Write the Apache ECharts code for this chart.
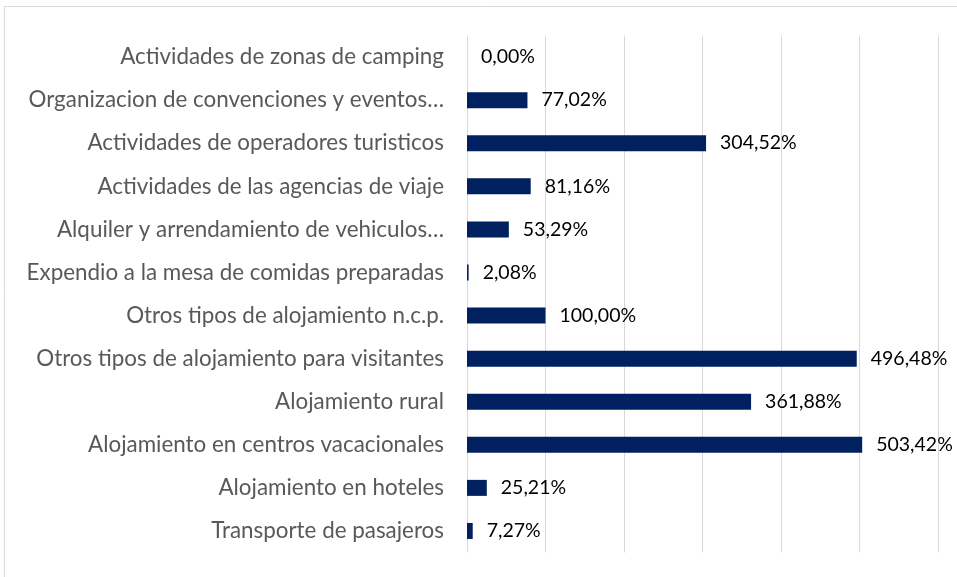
<!DOCTYPE html>
<html>
<head>
<meta charset="utf-8">
<script src="https://cdn.jsdelivr.net/npm/echarts@6/dist/echarts.min.js"></script>
<style>
  html, body { margin: 0; padding: 0; background: #fff; }
  #chart { width: 957px; height: 577px; }
</style>
</head>
<body>
<div id="chart"></div>
<script>
// categories, top to bottom as in the picture
const categories = [
    'Actividades de zonas de camping',
    'Organizacion de convenciones y eventos…',
    'Actividades de operadores turisticos',
    'Actividades de las agencias de viaje',
    'Alquiler y arrendamiento de vehiculos…',
    'Expendio a la mesa de comidas preparadas',
    'Otros tipos de alojamiento n.c.p.',
    'Otros tipos de alojamiento para visitantes',
    'Alojamiento rural',
    'Alojamiento en centros vacacionales',
    'Alojamiento en hoteles',
    'Transporte de pasajeros'
];

// percent values
const values = [0.00, 77.02, 304.52, 81.16, 53.29, 2.08, 100.00, 496.48, 361.88, 503.42, 25.21, 7.27];

const axisMax = 600;
const axisStep = 100;

const chart = echarts.init(document.getElementById('chart'), null, { renderer: 'canvas' });

const option = {
    backgroundColor: '#fff',
    animation: false,
    textStyle: { fontFamily: 'Lato' },
    graphic: [
        {
            // chart area border
            type: 'rect',
            shape: { x: 4.5, y: 6.5, width: 960, height: 600 },
            style: { fill: 'none', stroke: '#d9d9d9', lineWidth: 1 },
            silent: true
        }
    ],
    grid: {
        left: 467,
        right: 19,
        top: 35.5,
        bottom: 24.5
    },
    xAxis: {
        type: 'value',
        min: 0,
        max: axisMax,
        interval: axisStep,
        axisLabel: { show: false },
        axisLine: { show: false },
        axisTick: { show: false },
        splitLine: { show: true, lineStyle: { color: '#d9d9d9', width: 1 } }
    },
    yAxis: {
        type: 'category',
        inverse: true,
        data: categories,
        axisLine: { show: false },
        axisTick: { show: false },
        axisLabel: {
            color: '#595959',
            fontSize: 22.4,
            fontFamily: 'Lato',
            margin: 23
        }
    },
    series: [
        {
            name: 'Variación',
            type: 'bar',
            data: values,
            barWidth: 16,
            itemStyle: { color: '#002060' },
            label: {
                show: true,
                position: 'right',
                distance: 14,
                color: '#000',
                fontSize: 19.5,
                fontFamily: 'Lato',
                formatter: function(params) {
                    return params.value.toFixed(2).replace('.', ',') + '%';
                }
            }
        }
    ]
};

chart.setOption(option);
</script>
</body>
</html>
